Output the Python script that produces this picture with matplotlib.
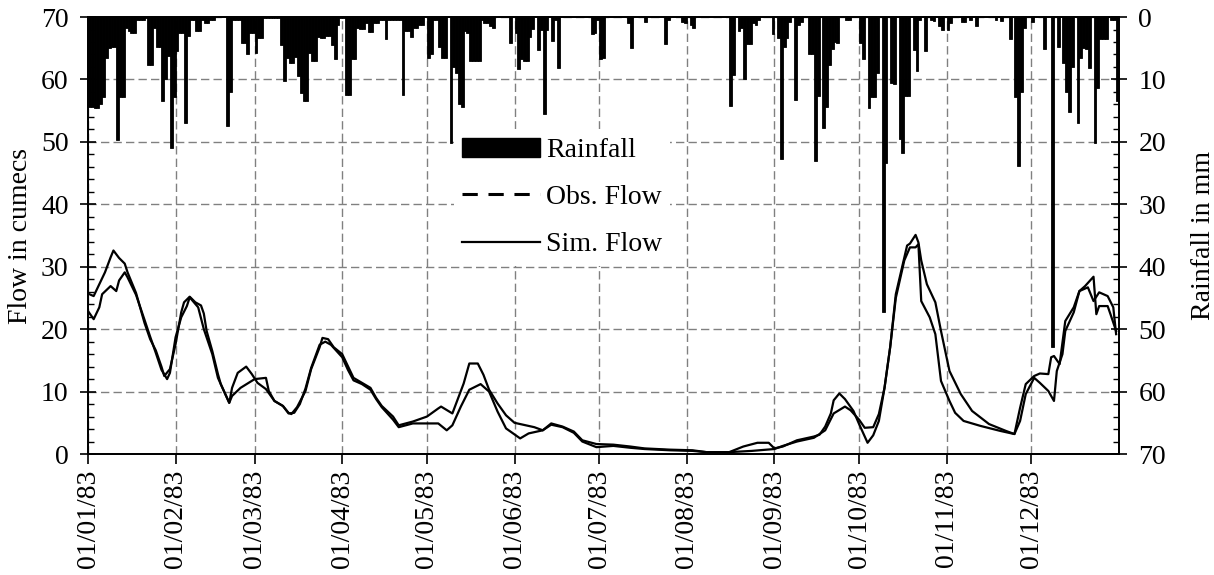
import matplotlib
matplotlib.use("Agg")
import matplotlib.pyplot as plt
from matplotlib.lines import Line2D
from matplotlib.patches import Patch
from matplotlib.ticker import MultipleLocator

plt.rcParams['font.family'] = ['Liberation Serif', 'DejaVu Serif']
plt.rcParams['font.size'] = 20

# ---- data (day of year 1983, 0 = 01/01/83) ----
month_days = [0, 31, 59, 90, 120, 151, 181, 212, 243, 273, 304, 334]
month_labels = ["01/01/83", "01/02/83", "01/03/83", "01/04/83", "01/05/83", "01/06/83",
                "01/07/83", "01/08/83", "01/09/83", "01/10/83", "01/11/83", "01/12/83"]

# daily rainfall (day, mm), grouped by month
rain_jan = [(0, 14.4), (1, 14.4), (2, 14.5), (3, 14.5), (4, 14.0), (5, 12.8), (6, 6.5),
            (7, 5.0), (8, 4.8), (9, 4.8), (10, 19.7), (11, 12.8), (12, 12.8), (13, 1.8),
            (14, 2.2), (15, 2.6), (16, 2.6), (17, 0.5), (18, 0.5), (19, 0.5), (20, 0.2),
            (21, 7.7), (22, 7.7), (23, 1.8), (24, 4.8), (25, 4.8), (26, 13.4), (27, 10.0),
            (28, 6.2), (29, 21.0), (30, 12.8)]
rain_feb = [(31, 5.5), (32, 2.6), (33, 2.6), (34, 17.0), (35, 3.0), (36, 0.5), (37, 0.4),
            (38, 2.3), (39, 2.3), (40, 0.5), (41, 1.0), (42, 1.0), (43, 0.4), (44, 0.4),
            (49, 17.4), (50, 12.0), (51, 0.4), (52, 0.4), (53, 0.4), (54, 4.2), (55, 4.2),
            (56, 5.9), (57, 2.6), (58, 2.6)]
rain_mar = [(59, 5.7), (60, 3.4), (61, 3.4), (62, 0.2), (63, 0.2), (64, 0.2), (65, 0.2),
            (66, 0.2), (67, 0.2), (68, 4.5), (69, 10.2), (70, 6.5), (71, 7.3), (72, 7.3),
            (73, 6.4), (74, 9.5), (75, 12.2), (76, 13.4), (77, 13.4), (78, 5.8), (79, 7.0),
            (80, 7.0), (81, 3.2), (82, 3.4), (83, 3.4), (84, 3.0), (85, 3.0), (86, 4.5),
            (87, 6.8), (88, 1.2), (89, 0.2)]
rain_apr = [(90, 0.2), (91, 12.5), (92, 12.5), (93, 6.7), (94, 6.7), (95, 1.8), (96, 1.9),
            (97, 1.9), (98, 1.0), (99, 2.4), (100, 2.4), (101, 1.0), (102, 1.0), (103, 0.5),
            (104, 0.5), (105, 3.5), (106, 0.4), (107, 0.4), (108, 0.4), (109, 0.4),
            (110, 0.4), (111, 12.5), (112, 2.3), (113, 2.3), (114, 3.2), (115, 1.8),
            (116, 1.8), (117, 1.2), (118, 1.2)]
rain_may = [(120, 6.5), (121, 6.0), (122, 0.5), (123, 0.5), (124, 4.8), (125, 6.5),
            (126, 6.5), (128, 20.2), (129, 8.0), (130, 9.0), (131, 14.0), (132, 14.4),
            (133, 2.2), (134, 2.6), (135, 7.0), (136, 7.0), (137, 7.0), (138, 7.0),
            (139, 0.5), (140, 1.0), (141, 1.0), (142, 1.5), (143, 1.8), (149, 4.2)]
rain_jun = [(151, 2.6), (152, 8.4), (153, 6.7), (154, 7.0), (155, 7.0), (156, 3.2),
            (157, 1.9), (159, 5.3), (160, 2.0), (161, 15.5), (162, 2.0), (164, 3.9),
            (165, 0.5), (166, 8.2), (178, 2.7), (179, 2.5), (180, 0.5)]
rain_jul = [(181, 6.8), (182, 6.5), (191, 1.0), (192, 5.0), (197, 0.8), (204, 4.4),
            (205, 0.5), (210, 0.8), (211, 1.0)]
rain_aug = [(213, 1.2), (214, 1.8), (227, 14.2), (228, 9.3), (230, 2.3), (231, 1.8),
            (232, 10.0), (233, 4.3), (234, 4.3), (235, 1.0), (236, 1.2), (237, 0.5),
            (242, 2.7)]
rain_sep = [(244, 3.3), (245, 22.7), (246, 4.8), (247, 3.4), (248, 0.8), (250, 13.3),
            (251, 1.2), (252, 0.8), (255, 6.0), (256, 6.0), (257, 23.1), (258, 12.6),
            (260, 17.8), (261, 14.4), (262, 7.7), (263, 5.2), (264, 4.0), (265, 4.2),
            (268, 0.5), (269, 0.5)]
rain_oct = [(273, 4.2), (274, 6.7), (276, 14.5), (277, 12.8), (278, 12.8), (279, 9.0),
            (281, 47.2), (282, 23.4), (284, 10.5), (285, 10.7), (287, 19.6), (288, 21.8),
            (289, 12.6), (290, 12.6), (292, 5.3), (293, 8.7), (294, 0.5), (296, 5.5),
            (298, 0.5), (299, 0.7), (301, 1.5), (302, 2.0)]
rain_nov = [(304, 2.1), (305, 1.0), (309, 0.8), (310, 0.8), (312, 0.5), (314, 1.4),
            (321, 0.5), (323, 0.6), (326, 3.5), (328, 12.8), (329, 23.8), (330, 12.0),
            (331, 1.8)]
rain_dec = [(334, 0.8), (338, 5.2), (341, 52.8), (343, 4.8), (345, 7.3), (346, 12.0),
            (347, 15.2), (348, 8.0), (350, 17.0), (351, 6.5), (352, 5.0), (353, 5.2),
            (354, 8.2), (356, 20.1), (357, 11.3), (358, 3.5), (359, 3.6), (360, 3.6),
            (362, 0.5), (363, 0.5), (364, 13.5)]

# observed flow (day, cumecs)
obs_flow = [(0, 25.7), (2, 25.3), (4, 27.2), (6, 29.1), (8, 31.5), (9, 32.6), (10, 32.0),
            (11, 31.4), (13, 30.5), (14, 29.1), (17, 25.8), (20, 21.0), (22, 18.4),
            (24, 16.6), (26, 14.0), (27, 12.5), (29, 13.6), (31, 17.6), (33, 22.7),
            (34, 24.3), (36, 25.2), (38, 24.3), (40, 23.8), (41, 22.5), (42, 19.7),
            (44, 16.5), (46, 12.8), (47, 11.2), (50, 8.2), (51, 10.6), (53, 13.0),
            (56, 14.0), (58, 12.8), (60, 11.4), (63, 10.4), (66, 8.5), (69, 7.7), (71, 6.6),
            (72, 6.4), (74, 7.5), (77, 10.1), (79, 13.6), (82, 17.1), (83, 18.6), (85, 18.4),
            (87, 17.1), (90, 16.0), (92, 14.1), (94, 12.2), (97, 11.4), (100, 10.6),
            (102, 9.0), (104, 7.7), (108, 6.0), (110, 4.6), (115, 5.2), (120, 6.0),
            (124, 7.3), (125, 7.6), (129, 6.5), (133, 11.3), (135, 14.5), (138, 14.5),
            (140, 12.7), (142, 10.3), (145, 8.1), (148, 6.2), (151, 5.0), (155, 4.6),
            (158, 4.3), (161, 3.8), (164, 4.9), (168, 4.4), (172, 3.6), (175, 2.2),
            (180, 1.6), (186, 1.5), (192, 1.2), (197, 0.9), (206, 0.7), (214, 0.6),
            (219, 0.3), (227, 0.3), (232, 1.2), (237, 1.8), (241, 1.8), (243, 0.9),
            (246, 1.2), (251, 2.2), (257, 2.8), (259, 3.1), (261, 4.4), (263, 6.5),
            (264, 8.6), (266, 9.7), (268, 8.8), (271, 6.9), (273, 4.8), (276, 1.8),
            (278, 3.0), (280, 5.3), (282, 10.6), (284, 17.1), (286, 25.6), (289, 31.5),
            (290, 33.4), (291, 33.7), (293, 35.1), (294, 33.9), (295, 31.0), (297, 27.2),
            (300, 24.3), (302, 19.7), (305, 13.3), (309, 9.6), (313, 6.9), (319, 4.8),
            (325, 3.7), (328, 3.2), (330, 7.4), (332, 11.2), (335, 12.5), (337, 12.9),
            (340, 12.8), (341, 15.5), (342, 15.7), (344, 14.4), (346, 21.3), (349, 23.5),
            (351, 26.1), (353, 26.9), (356, 28.4), (357, 22.4), (358, 23.7), (361, 23.7),
            (362, 22.4), (364, 19.7)]

# simulated flow (day, cumecs)
sim_flow = [(0, 22.9), (2, 21.6), (4, 23.5), (5, 25.6), (8, 26.9), (10, 26.1), (11, 27.8),
            (13, 29.1), (14, 28.3), (17, 25.5), (20, 21.5), (22, 18.8), (24, 16.2),
            (26, 13.5), (28, 12.0), (29, 13.0), (31, 18.7), (33, 21.9), (35, 23.7),
            (36, 25.1), (39, 23.5), (41, 20.0), (44, 16.0), (46, 12.2), (50, 8.2),
            (51, 9.3), (54, 10.6), (59, 12.0), (63, 12.2), (64, 10.1), (66, 8.5), (69, 7.7),
            (71, 6.5), (73, 6.6), (75, 8.0), (77, 10.5), (79, 13.8), (82, 17.5), (84, 18.0),
            (86, 17.5), (88, 16.5), (90, 15.5), (92, 13.5), (94, 11.8), (97, 11.2),
            (100, 10.3), (102, 8.8), (104, 7.5), (108, 5.5), (110, 4.3), (115, 4.9),
            (120, 4.9), (124, 4.9), (127, 3.8), (129, 4.6), (132, 7.6), (135, 10.3),
            (139, 11.2), (142, 10.0), (145, 6.8), (148, 4.1), (153, 2.5), (156, 3.3),
            (161, 3.8), (164, 4.7), (168, 4.3), (172, 3.4), (175, 2.0), (180, 1.1),
            (186, 1.3), (192, 1.0), (197, 0.8), (206, 0.6), (214, 0.5), (219, 0.3),
            (227, 0.3), (235, 0.5), (243, 0.8), (246, 1.3), (251, 2.0), (257, 2.6),
            (261, 3.8), (264, 6.5), (268, 7.6), (270, 7.0), (273, 5.5), (275, 4.2),
            (278, 4.3), (280, 6.4), (282, 10.6), (284, 17.1), (286, 25.0), (289, 31.0),
            (291, 33.1), (293, 33.1), (294, 33.6), (295, 24.5), (298, 21.9), (300, 19.2),
            (302, 11.7), (305, 8.5), (307, 6.6), (310, 5.3), (316, 4.5), (323, 3.7),
            (328, 3.2), (330, 5.3), (332, 9.6), (335, 12.2), (337, 11.4), (340, 10.1),
            (342, 8.5), (343, 13.3), (345, 16.0), (346, 19.7), (349, 22.7), (351, 26.1),
            (354, 26.7), (356, 24.5), (358, 25.9), (361, 25.3), (363, 23.5), (364, 19.2)]

rain_all = (rain_jan + rain_feb + rain_mar + rain_apr + rain_may + rain_jun + rain_jul
            + rain_aug + rain_sep + rain_oct + rain_nov + rain_dec)
rain_day = [d for d, _ in rain_all]
rain_mm = [v for _, v in rain_all]

# ---- figure ----
fig = plt.figure(figsize=(12.14, 5.75), dpi=100)
ax = fig.add_axes([0.0725, 0.2104, 0.8492, 0.76])
ax2 = ax.twinx()

grid_kw = dict(color='#808080', linestyle=(0, (6, 3)), linewidth=1.0)
ax.grid(True, which='major', **grid_kw)
ax.set_axisbelow(True)

ax.plot([d for d, _ in obs_flow], [v for _, v in obs_flow],
        color='black', linewidth=1.6, zorder=3)
ax.plot([d for d, _ in sim_flow], [v for _, v in sim_flow],
        color='black', linewidth=1.6, zorder=3)

ax2.bar(rain_day, rain_mm, width=1.0, align='edge', color='black',
        edgecolor='black', linewidth=0.6, zorder=2)

ax.set_xlim(0, 365)
ax.set_ylim(0, 70)
ax2.set_ylim(70, 0)

ax.set_xticks(month_days)
ax.set_xticklabels(month_labels, rotation=90)
ax.yaxis.set_major_locator(MultipleLocator(10))
ax.yaxis.set_minor_locator(MultipleLocator(2))
ax2.yaxis.set_major_locator(MultipleLocator(10))
ax2.yaxis.set_minor_locator(MultipleLocator(2))

ax.tick_params(axis='x', direction='out', length=7, width=1.2, pad=4)
ax.tick_params(axis='y', which='major', direction='inout', length=12, width=1.2, pad=8)
ax.tick_params(axis='y', which='minor', direction='in', length=4.5, width=1.0)
ax2.tick_params(axis='y', which='major', direction='inout', length=12, width=1.2, pad=8)
ax2.tick_params(axis='y', which='minor', direction='in', length=4.5, width=1.0)

for a in (ax, ax2):
    for s in a.spines.values():
        s.set_linewidth(1.3)

ax.set_ylabel("Flow in cumecs", labelpad=6)
ax2.set_ylabel("Rainfall in mm", labelpad=18)

handles = [Patch(facecolor='black', edgecolor='black'),
           Line2D([], [], color='black', linestyle=(0, (5, 3.5)), linewidth=2.2),
           Line2D([], [], color='black', linestyle='-', linewidth=1.6)]
leg = ax2.legend(handles, ["Rainfall", "Obs. Flow", "Sim. Flow"],
                 loc='upper left', bbox_to_anchor=(0.3416, 0.775),
                 frameon=True, fancybox=False, handlelength=2.8,
                 handleheight=0.7, labelspacing=0.78, handletextpad=0.2,
                 borderpad=0.3, fontsize=20)
leg.get_frame().set_facecolor('white')
leg.get_frame().set_edgecolor('none')
leg.get_frame().set_alpha(1.0)

fig.savefig("out.png", dpi=100)
